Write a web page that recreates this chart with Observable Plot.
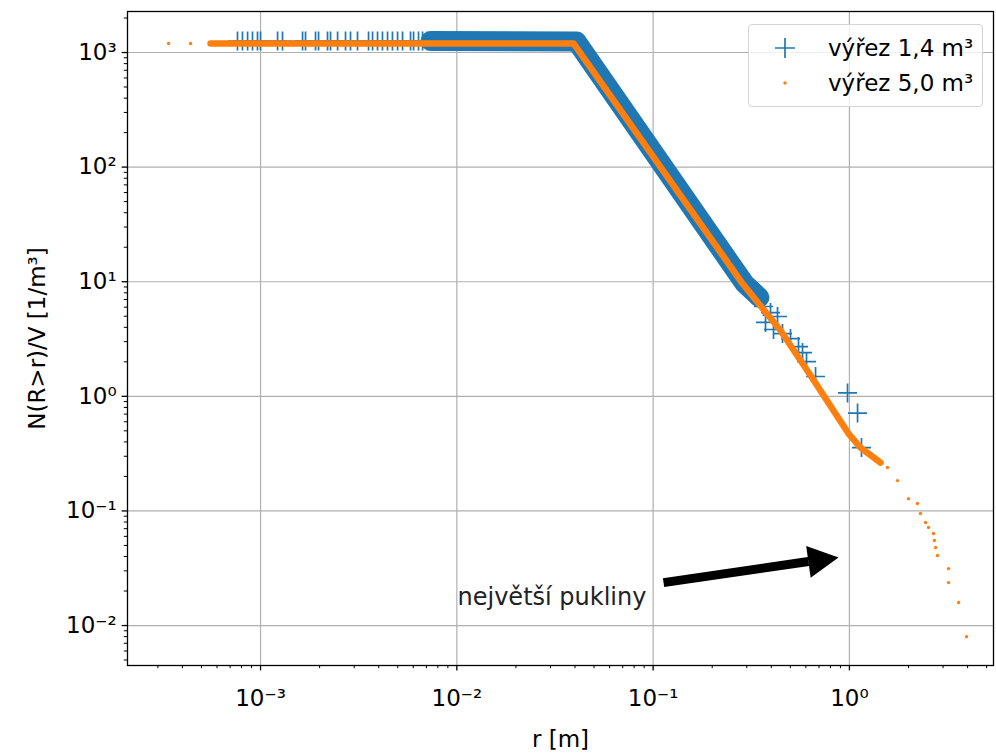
<!DOCTYPE html>
<html><head><meta charset="utf-8">
<script src="https://cdn.jsdelivr.net/npm/d3@7"></script>
<script src="https://cdn.jsdelivr.net/npm/@observablehq/plot@0.6"></script>
<style>
body{margin:0;background:#fff;font-family:"DejaVu Sans",sans-serif;}
#wrap{position:relative;width:996px;height:756px;}
#legend{position:absolute;left:748px;top:24px;width:235px;height:83px;border:1px solid #d5d5d5;border-radius:4px;background:rgba(255,255,255,0.8);box-sizing:border-box;}
.lrow{position:absolute;left:0;height:30px;width:100%;}
.lrow svg{position:absolute;left:24px;top:0;}
.lrow span{position:absolute;left:79px;top:0;line-height:30px;font-size:23px;color:#000;white-space:nowrap;}
</style></head><body><div id="wrap"></div>
<script>
// ---- data ----
const seriesNames = ["výřez 1,4 m³", "výřez 5,0 m³"];
const seriesColors = ["#1f77b4", "#ff7f0e"];

// dense part of the 1.4 m³ sample (drawn as a thick band)
const blueBandR = [7.34e-3, 0.0407, 0.2921, 0.348];
const blueBandN = [1260, 1247, 9.64, 7.28];
// individually visible crosses of the 1.4 m³ sample
const blueCrossR = [7.63e-4, 8.09e-4, 8.59e-4, 9.10e-4, 9.65e-4, 1.00e-3, 1.221e-3, 1.294e-3, 1.637e-3, 1.695e-3,
  1.906e-3, 1.975e-3, 2.194e-3, 2.273e-3, 2.469e-3, 2.710e-3, 2.873e-3, 3.119e-3, 3.550e-3, 3.721e-3,
  3.945e-3, 4.18e-3, 4.436e-3, 4.70e-3, 4.99e-3, 5.29e-3, 5.81e-3, 6.02e-3, 6.38e-3, 6.69e-3, 7.09e-3,
  0.3650, 0.3963, 0.4302, 0.3737, 0.4105, 0.4561, 0.5011, 0.5503, 0.5769, 0.6046, 0.6721, 0.978, 1.10, 1.152];
const blueCrossN = [1260, 1260, 1260, 1260, 1260, 1260, 1260, 1260, 1260, 1260,
  1260, 1260, 1260, 1260, 1260, 1260, 1260, 1260, 1260, 1260,
  1260, 1260, 1260, 1260, 1260, 1260, 1260, 1260, 1260, 1260, 1260,
  6.08, 5.38, 4.97, 4.41, 3.83, 3.53, 3.19, 2.72, 2.41, 2.01, 1.49, 1.07, 0.714, 0.357];

// dense part of the 5.0 m³ sample
const orangeBandR = [5.56e-4, 0.0393, 0.2853, 0.4457, 0.634, 0.989, 1.139, 1.44];
const orangeBandN = [1200, 1200, 9.64, 3.75, 1.519, 0.4735, 0.357, 0.264];
// individually visible dots of the 5.0 m³ sample
const orangeDotR = [3.40e-4, 4.40e-4, 1.563, 1.758, 2.0, 2.22, 2.30, 2.44, 2.53, 2.68, 2.71, 2.75, 2.81, 3.20, 3.20, 3.60, 3.95];
const orangeDotN = [1200, 1200, 0.239, 0.184, 0.128, 0.116, 0.0949, 0.0792, 0.0716, 0.0635, 0.0552, 0.048, 0.0408, 0.0314, 0.0237, 0.0159, 0.0080];

// annotation
const annotText = ["největší pukliny"];
const annotR = [0.01008];
const annotN = [0.01755];
const arrowTail = {r: 0.113, n: 0.0237};
const arrowBase = {r: 0.619, n: 0.0362};
const arrowTip = {r: 0.88, n: 0.0392};

// axes
const xDomain = [2.1e-4, 5.42];
const yDomain = [4.48e-3, 2280];
const xMajor = [1e-3, 1e-2, 1e-1, 1];
const xMinor = [3e-4, 4e-4, 5e-4, 6e-4, 7e-4, 8e-4, 9e-4,
  2e-3, 3e-3, 4e-3, 5e-3, 6e-3, 7e-3, 8e-3, 9e-3,
  2e-2, 3e-2, 4e-2, 5e-2, 6e-2, 7e-2, 8e-2, 9e-2,
  0.2, 0.3, 0.4, 0.5, 0.6, 0.7, 0.8, 0.9, 2, 3, 4, 5];
const yMajor = [1e-2, 1e-1, 1, 10, 100, 1000];
const yMinor = [5e-3, 6e-3, 7e-3, 8e-3, 9e-3,
  2e-2, 3e-2, 4e-2, 5e-2, 6e-2, 7e-2, 8e-2, 9e-2,
  0.2, 0.3, 0.4, 0.5, 0.6, 0.7, 0.8, 0.9,
  2, 3, 4, 5, 6, 7, 8, 9,
  20, 30, 40, 50, 60, 70, 80, 90,
  200, 300, 400, 500, 600, 700, 800, 900, 2000];
const xLabel = "r [m]";
const yLabel = "N(R>r)/V [1/m³]";

// ---- build ----
const zip = (R, N) => R.map((r, i) => ({r, n: N[i]}));
const blueBand = zip(blueBandR, blueBandN);
const blueCross = zip(blueCrossR, blueCrossN);
const orangeBand = zip(orangeBandR, orangeBandN);
const orangeDots = zip(orangeDotR, orangeDotN);
const annot = annotText.map((t, i) => ({t, r: annotR[i], n: annotN[i]}));

const supMap = {"-": "⁻", "0": "⁰", "1": "¹", "2": "²", "3": "³", "4": "⁴", "5": "⁵", "6": "⁶", "7": "⁷", "8": "⁸", "9": "⁹"};
const fmt = d => "10" + String(Math.round(Math.log10(d))).split("").map(c => supMap[c]).join("");

const plusSymbol = {draw(ctx, size) {const r = Math.sqrt(size / Math.PI); ctx.moveTo(-r, 0); ctx.lineTo(r, 0); ctx.moveTo(0, -r); ctx.lineTo(0, r);}};
const headSymbol = {draw(ctx, size) {const r = Math.sqrt(size / Math.PI); ctx.moveTo(0, 0); ctx.lineTo(-1.9 * r, -r); ctx.lineTo(-1.9 * r, r); ctx.closePath();}};

const FS = 23;
const plot = Plot.plot({
  width: 996, height: 756,
  marginTop: 11, marginBottom: 91, marginLeft: 127, marginRight: 3,
  style: {fontFamily: "DejaVu Sans", fontSize: FS + "px", color: "#000", background: "#fff"},
  x: {type: "log", domain: xDomain},
  y: {type: "log", domain: yDomain},
  marks: [
    Plot.ruleX(xMajor, {stroke: "#b0b0b0", strokeWidth: 1.2}),
    Plot.ruleY(yMajor, {stroke: "#b0b0b0", strokeWidth: 1.2}),
    Plot.line(blueBand, {x: "r", y: "n", stroke: seriesColors[0], strokeWidth: 20, strokeLinejoin: "round"}),
    Plot.dot(blueCross, {x: "r", y: "n", symbol: plusSymbol, r: 9.5, stroke: seriesColors[0], strokeWidth: 1.7, fill: "none"}),
    Plot.line(orangeBand, {x: "r", y: "n", stroke: seriesColors[1], strokeWidth: 6.5, strokeLinejoin: "round"}),
    Plot.dot(orangeDots, {x: "r", y: "n", r: 1.7, fill: seriesColors[1], stroke: "none"}),
    Plot.link([{a: arrowTail, b: arrowBase}], {x1: d => d.a.r, y1: d => d.a.n, x2: d => d.b.r, y2: d => d.b.n, stroke: "#000", strokeWidth: 9}),
    Plot.dot([arrowTip], {x: "r", y: "n", symbol: headSymbol, r: 16, fill: "#000", stroke: "none", rotate: -8.1}),
    Plot.text(annot, {x: "r", y: "n", text: "t", textAnchor: "start", lineAnchor: "middle", fontSize: 24, fill: "#222"}),
    Plot.frame({stroke: "#000", strokeWidth: 1.3}),
    Plot.axisX(xMajor, {tickFormat: fmt, tickSize: 5.4, tickPadding: 19, strokeWidth: 1.3, fontSize: FS, label: xLabel, labelAnchor: "center", labelOffset: 81, labelArrow: "none"}),
    Plot.axisX(xMinor, {tickFormat: () => "", tickSize: 3.2, strokeWidth: 1, label: null}),
    Plot.axisY(yMajor, {tickFormat: fmt, tickSize: 5.4, tickPadding: 5.4, strokeWidth: 1.3, fontSize: FS, label: yLabel, labelAnchor: "center", labelOffset: 99, labelArrow: "none"}),
    Plot.axisY(yMinor, {tickFormat: () => "", tickSize: 3.2, strokeWidth: 1, label: null})
  ]
});

const wrap = document.getElementById("wrap");
wrap.appendChild(plot);

// legend (inside the axes, upper right)
const legend = document.createElement("div");
legend.id = "legend";
const rowTops = [8, 43];
seriesNames.forEach((name, i) => {
  const row = document.createElement("div");
  row.className = "lrow";
  row.style.top = rowTops[i] + "px";
  const sym = i === 0
    ? `<svg width="24" height="30"><path d="M2,15H22M12,5V25" stroke="${seriesColors[0]}" stroke-width="1.7" fill="none"/></svg>`
    : `<svg width="24" height="30"><circle cx="12" cy="15" r="1.7" fill="${seriesColors[1]}"/></svg>`;
  row.innerHTML = sym + `<span>${name}</span>`;
  legend.appendChild(row);
});
wrap.appendChild(legend);
</script>
</body></html>
